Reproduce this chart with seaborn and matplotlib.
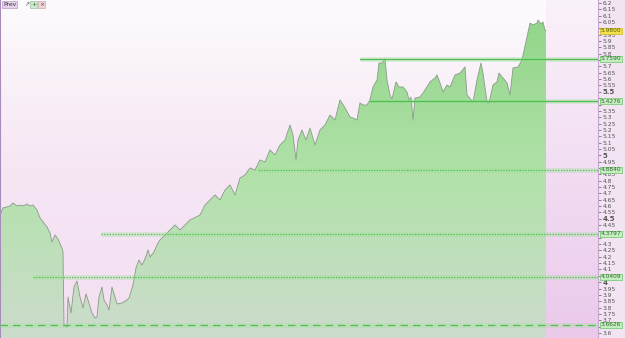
import numpy as np
import pandas as pd
import matplotlib
matplotlib.use("Agg")
import matplotlib.pyplot as plt
import seaborn as sns
from matplotlib.colors import LinearSegmentedColormap

# ---------------- data ----------------
bar_index = [0, 3, 10, 13, 17, 20, 23, 27, 30, 33, 37, 40, 47, 50, 52, 55, 58, 62, 63, 64,
             67, 68, 71, 74, 77, 80, 83, 86, 88, 92, 95, 97, 99, 102, 104, 107, 109, 112, 115, 117,
             122, 127, 129, 133, 136, 139, 142, 145, 148, 150, 154, 158, 160, 165, 175, 180, 190, 200, 205, 210,
             215, 220, 225, 230, 235, 240, 245, 250, 255, 260, 265, 270, 275, 280, 285, 290, 293, 296, 298, 302,
             306, 310, 315, 320, 325, 330, 335, 340, 345, 350, 353, 357, 360, 363, 367, 370, 373, 377, 379, 382,
             385, 387, 390, 392, 396, 399, 403, 407, 409, 411, 413, 415, 420, 425, 430, 435, 437, 440, 443, 447,
             450, 455, 460, 465, 467, 473, 477, 481, 483, 487, 489, 493, 497, 499, 503, 507, 510, 513, 518, 522,
             527, 530, 533, 537, 538, 541, 543, 545, 546]
price = [4.529, 4.585, 4.600, 4.624, 4.600, 4.608, 4.600, 4.616, 4.600, 4.608, 4.569, 4.506, 4.435, 4.388, 4.317, 4.372, 4.340, 4.269, 4.238, 3.663,
         3.647, 3.883, 3.757, 3.962, 4.009, 3.883, 3.797, 3.907, 3.860, 3.757, 3.718, 3.726, 3.883, 3.962, 3.860, 3.820, 3.781, 3.962, 3.883, 3.828,
         3.836, 3.860, 3.875, 3.978, 4.112, 4.175, 4.135, 4.183, 4.254, 4.199, 4.238, 4.309, 4.332, 4.372, 4.451, 4.411, 4.490, 4.529, 4.608, 4.648,
         4.687, 4.648, 4.726, 4.766, 4.687, 4.821, 4.845, 4.900, 4.884, 4.963, 4.947, 5.042, 5.002, 5.081, 5.120, 5.239, 5.160, 4.963, 5.120, 5.199,
         5.120, 5.215, 5.081, 5.199, 5.239, 5.317, 5.278, 5.436, 5.373, 5.302, 5.294, 5.278, 5.412, 5.396, 5.396, 5.436, 5.538, 5.593, 5.727, 5.727,
         5.759, 5.593, 5.475, 5.443, 5.578, 5.538, 5.538, 5.499, 5.436, 5.459, 5.278, 5.451, 5.459, 5.514, 5.578, 5.609, 5.633, 5.570, 5.499, 5.554,
         5.538, 5.633, 5.648, 5.696, 5.475, 5.420, 5.593, 5.727, 5.648, 5.420, 5.412, 5.554, 5.578, 5.648, 5.609, 5.570, 5.475, 5.688, 5.696, 5.751,
         5.932, 6.042, 6.027, 6.042, 6.066, 6.035, 6.050, 5.987, 5.980]

level_values = [5.7590, 5.4276, 4.8840, 4.3797, 4.0409, 3.6626]
level_starts = [360, 370, 258, 101, 33, 0]
level_styles = ["-", "-", ":", ":", ":", "--"]
level_labels = ["5.7590", "5.4276", "4.8840", "4.3797", "4.0409", "3.6626"]
last_label = "5.9800"

tick_values = [round(3.6 + 0.05 * i, 2) for i in range(53)]
tick_labels = [("%g" % t) for t in tick_values]

df = pd.DataFrame({"bar": bar_index, "price": price})

# ---------------- figure ----------------
sns.set_theme(style="white")
plt.rcParams["font.family"] = ["DejaVu Sans"]

W, H = 625, 338
fig = plt.figure(figsize=(W / 100, H / 100), dpi=100)
fig.patch.set_facecolor("#f3e4f3")
ax = fig.add_axes([0, 0, 598 / W, 1])

YMIN, YMAX = 3.560, 6.2236
XMAX = 598
ax.set_xlim(0, XMAX)
ax.set_ylim(YMIN, YMAX)

# background gradient
bg = LinearSegmentedColormap.from_list("bg", ["#f3dff1", "#f6e6f4", "#fdfbfd"])
grad = np.linspace(0, 1, 256).reshape(-1, 1)
ax.imshow(grad, extent=[0, XMAX, YMIN, YMAX], origin="lower", aspect="auto",
          cmap=bg, zorder=0)
# future region
fut = LinearSegmentedColormap.from_list("fut", ["#ebc9eb", "#faf2fa"])
ax.imshow(grad, extent=[bar_index[-1], XMAX, YMIN, YMAX], origin="lower",
          aspect="auto", cmap=fut, zorder=0.5)

# area fill with gradient
poly = ax.fill_between(df["bar"], df["price"], YMIN, facecolor="none",
                       edgecolor="none", zorder=1)
gcm = LinearSegmentedColormap.from_list("g", ["#cddccd", "#b2e2aa", "#92d68a"])
im = ax.imshow(grad, extent=[0, XMAX, YMIN, max(price)], origin="lower",
               aspect="auto", cmap=gcm, zorder=1)
im.set_clip_path(poly.get_paths()[0], transform=ax.transData)

sns.lineplot(data=df, x="bar", y="price", ax=ax, color="#8a9a8a",
             linewidth=0.6, zorder=2)

# levels
for v, s, ls in zip(level_values, level_starts, level_styles):
    ax.plot([s, XMAX], [v, v], color="#9fe09a", linewidth=3.5, alpha=0.35,
            solid_capstyle="butt", zorder=3)
    lw = 1.0 if ls == "-" else 0.9
    ax.plot([s, XMAX], [v, v], color="#4fbf4f", linewidth=lw, linestyle=ls,
            dashes=(1, 1.2) if ls == ":" else ((6, 4) if ls == "--" else (None, None)),
            zorder=3)

ax.set_xlabel("")
ax.set_ylabel("")
ax.set_xticks([])
ax.yaxis.tick_right()
ax.set_yticks(tick_values)
hidden = list(level_values) + [price[-1]]
shown_labels = [("" if any(abs(t - h) < 0.03 for h in hidden) else lab)
                for t, lab in zip(tick_values, tick_labels)]
ax.set_yticklabels(shown_labels)
ax.tick_params(axis="y", which="major", length=2, width=0.5, pad=1.5,
               labelsize=4.3, colors="#555555", direction="out")
for t, lab in zip(tick_values, ax.get_yticklabels()):
    if abs((t * 2) - round(t * 2)) < 1e-6:
        lab.set_fontweight("bold")
        lab.set_fontsize(5)

for sp in ["top", "bottom"]:
    ax.spines[sp].set_visible(False)
ax.spines["left"].set_color("#a68bbb")
ax.spines["left"].set_linewidth(1.5)
ax.spines["right"].set_color("#c6a8cf")
ax.spines["right"].set_linewidth(0.8)

# highlighted labels on the axis
for v, lab in zip(level_values, level_labels):
    ax.text(1.004, v, lab, transform=ax.get_yaxis_transform(), fontsize=4.2,
            color="#336633", va="center", ha="left", zorder=5,
            bbox=dict(boxstyle="square,pad=0.15", facecolor="#c4eec0",
                      edgecolor="#6ac46a", linewidth=0.5))
ax.text(1.004, price[-1], last_label, transform=ax.get_yaxis_transform(),
        fontsize=4.2, color="#555500", va="center", ha="left", zorder=5,
        bbox=dict(boxstyle="square,pad=0.15", facecolor="#f2e24a",
                  edgecolor="#c9b820", linewidth=0.5))

# toolbar
ax.text(3, YMAX - 0.035, "Prev", fontsize=4.3, color="#333333", va="center",
        ha="left", zorder=6,
        bbox=dict(boxstyle="square,pad=0.2", facecolor="#e4d2ea",
                  edgecolor="#b89cc4", linewidth=0.5))
ax.text(24, YMAX - 0.035, "\u2197", fontsize=4.3, color="#555555", va="center",
        ha="left", zorder=6)
ax.text(31, YMAX - 0.035, "+", fontsize=4.3, color="#207020", va="center",
        ha="left", zorder=6,
        bbox=dict(boxstyle="square,pad=0.1", facecolor="#cfe8cf",
                  edgecolor="#90b090", linewidth=0.4))
ax.text(39, YMAX - 0.035, "\u00d7", fontsize=4.3, color="#a03030", va="center",
        ha="left", zorder=6,
        bbox=dict(boxstyle="square,pad=0.1", facecolor="#ecd6dc",
                  edgecolor="#b89ca4", linewidth=0.4))

fig.savefig("out.png", dpi=100)
